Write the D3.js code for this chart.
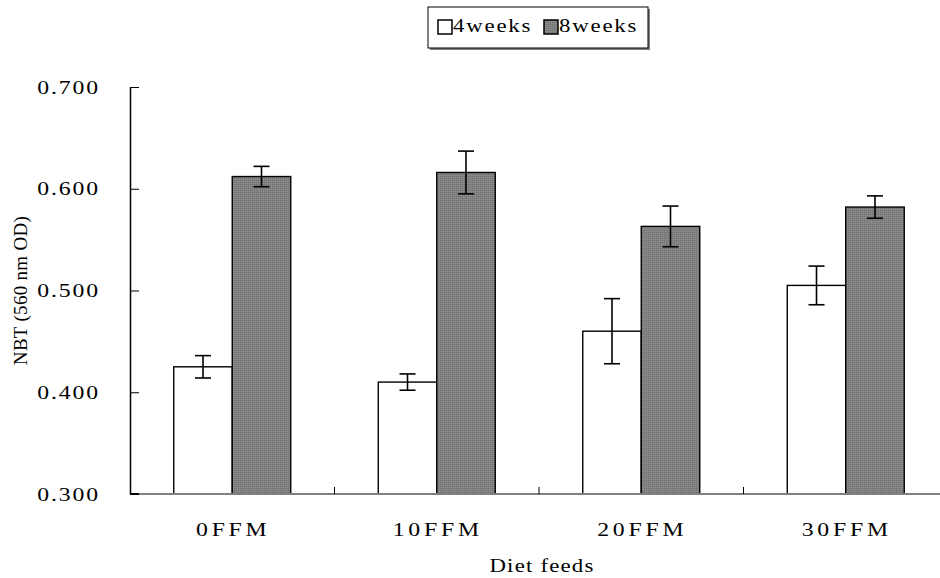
<!DOCTYPE html>
<html>
<head>
<meta charset="utf-8">
<script src="https://cdn.jsdelivr.net/npm/d3@7"></script>
<style>
  html, body { margin: 0; padding: 0; background: #fff; }
  svg { display: block; }
  svg text { font-family: "Liberation Serif", "Times New Roman", Times, serif; }
</style>
</head>
<body>
<svg id="chart" width="940" height="578"></svg>
<script>
// NBT activity by diet feed, measured after 4 and 8 weeks
const categories = ["0FFM", "10FFM", "20FFM", "30FFM"];
const seriesNames = ["4weeks", "8weeks"];
const values4w = [0.425, 0.410, 0.460, 0.505];
const errors4w = [0.011, 0.008, 0.032, 0.019];
const values8w = [0.612, 0.616, 0.563, 0.582];
const errors8w = [0.010, 0.021, 0.020, 0.011];
const yTicks = [0.3, 0.4, 0.5, 0.6, 0.7];

const FONT = "Liberation Serif";
const svg = d3.select("#chart");

// widen glyphs horizontally (wide serif look)
function widen(sel, k) {
  sel.each(function () {
    const w = this.getComputedTextLength();
    d3.select(this).attr("textLength", w * k).attr("lengthAdjust", "spacingAndGlyphs");
  });
}

// hatched grey fill for the 8-week bars
const defs = svg.append("defs");
const pat = defs.append("pattern")
  .attr("id", "greyDots")
  .attr("patternUnits", "userSpaceOnUse")
  .attr("width", 2).attr("height", 2);
pat.append("rect").attr("width", 2).attr("height", 2).attr("fill", "#828282");
pat.append("rect").attr("width", 1).attr("height", 1).attr("fill", "#727272");
pat.append("rect").attr("x", 1).attr("y", 1).attr("width", 1).attr("height", 1).attr("fill", "#8c8c8c");

const plotLeft = 130, plotRight = 948, plotTop = 87, plotBottom = 494;

const x = d3.scaleBand().domain(categories).range([plotLeft, plotRight]).padding(0);
const xInner = d3.scaleBand().domain(seriesNames)
  .range([x.bandwidth() * 0.214, x.bandwidth() * 0.786]).padding(0);
const y = d3.scaleLinear().domain([0.3, 0.7]).range([plotBottom, plotTop]);

const rows = categories.map((c, i) => [
  { cat: c, s: "4weeks", v: values4w[i], e: errors4w[i] },
  { cat: c, s: "8weeks", v: values8w[i], e: errors8w[i] }
]).flat();

const fills = { "4weeks": "#ffffff", "8weeks": "url(#greyDots)" };

// bars
svg.append("g").selectAll("rect").data(rows).join("rect")
  .attr("x", d => x(d.cat) + xInner(d.s))
  .attr("y", d => y(d.v))
  .attr("width", xInner.bandwidth())
  .attr("height", d => y(0.3) - y(d.v))
  .attr("fill", d => fills[d.s])
  .attr("stroke", "#000")
  .attr("stroke-width", 1.4);

// error bars
const eb = svg.append("g").attr("stroke", "#000").attr("stroke-width", 1.6);
rows.forEach(d => {
  const cx = x(d.cat) + xInner(d.s) + xInner.bandwidth() / 2;
  const y1 = y(d.v + d.e), y2 = y(d.v - d.e);
  eb.append("line").attr("x1", cx).attr("x2", cx).attr("y1", y1).attr("y2", y2);
  eb.append("line").attr("x1", cx - 8).attr("x2", cx + 8).attr("y1", y1).attr("y2", y1);
  eb.append("line").attr("x1", cx - 8).attr("x2", cx + 8).attr("y1", y2).attr("y2", y2);
});

// x axis: grey baseline with small inward ticks between categories
svg.append("line")
  .attr("x1", plotLeft).attr("x2", 940).attr("y1", plotBottom).attr("y2", plotBottom)
  .attr("stroke", "#808080").attr("stroke-width", 2);
svg.append("line")
  .attr("x1", plotLeft).attr("x2", plotLeft + 9).attr("y1", plotBottom).attr("y2", plotBottom)
  .attr("stroke", "#000").attr("stroke-width", 2);
svg.append("g").selectAll("line").data(categories.slice(1)).join("line")
  .attr("x1", d => x(d)).attr("x2", d => x(d))
  .attr("y1", plotBottom).attr("y2", plotBottom - 7)
  .attr("stroke", "#000").attr("stroke-width", 1);

const xLabels = svg.append("g").selectAll("text").data(categories).join("text")
  .attr("x", d => x(d) + x.bandwidth() / 2 + 1)
  .attr("y", 536)
  .attr("text-anchor", "middle")
  .attr("font-family", FONT)
  .attr("font-size", 19)
  .attr("letter-spacing", 3)
  .attr("fill", "#000")
  .text(d => d);
widen(xLabels, 1.25);

const xTitle = svg.append("text")
  .attr("x", (plotLeft + plotRight) / 2 + 3)
  .attr("y", 572)
  .attr("text-anchor", "middle")
  .attr("font-family", FONT)
  .attr("font-size", 19)
  .attr("letter-spacing", 1)
  .text("Diet feeds");
widen(xTitle, 1.2);

// y axis with inward ticks
const yAxis = d3.axisLeft(y).tickValues(yTicks)
  .tickFormat(d3.format(".3f"))
  .tickSizeInner(-9).tickSizeOuter(0).tickPadding(30);
const gy = svg.append("g").attr("transform", `translate(${plotLeft},0)`).call(yAxis);
gy.attr("font-family", FONT);
gy.select(".domain").attr("stroke", "#000").attr("stroke-width", 1.5);
gy.selectAll(".tick line").attr("stroke", "#000").attr("stroke-width", 1);
const yLabels = gy.selectAll(".tick text")
  .attr("font-family", FONT)
  .attr("font-size", 19)
  .attr("letter-spacing", 1.5)
  .attr("fill", "#000");
widen(yLabels, 1.25);

svg.append("text")
  .attr("transform", `translate(27,${(plotTop + plotBottom) / 2}) rotate(-90)`)
  .attr("text-anchor", "middle")
  .attr("font-family", FONT)
  .attr("font-size", 19)
  .attr("letter-spacing", 0.3)
  .text("NBT (560 nm OD)");

// legend
const lg = svg.append("g");
lg.append("rect").attr("x", 430).attr("y", 9).attr("width", 220).attr("height", 41)
  .attr("fill", "#808080");
lg.append("rect").attr("x", 428).attr("y", 7).attr("width", 220).attr("height", 41)
  .attr("fill", "#fff").attr("stroke", "#000").attr("stroke-width", 1);
const legendX = [438, 544];
seriesNames.forEach((s, i) => {
  lg.append("rect").attr("x", legendX[i]).attr("y", 20).attr("width", 14).attr("height", 14)
    .attr("fill", fills[s]).attr("stroke", "#000").attr("stroke-width", 1.5);
  const t = lg.append("text").attr("x", legendX[i] + 15).attr("y", 32)
    .attr("font-family", FONT)
    .attr("font-size", 19).attr("letter-spacing", 1.5)
    .text(s);
  widen(t, 1.2);
});
</script>
</body>
</html>
